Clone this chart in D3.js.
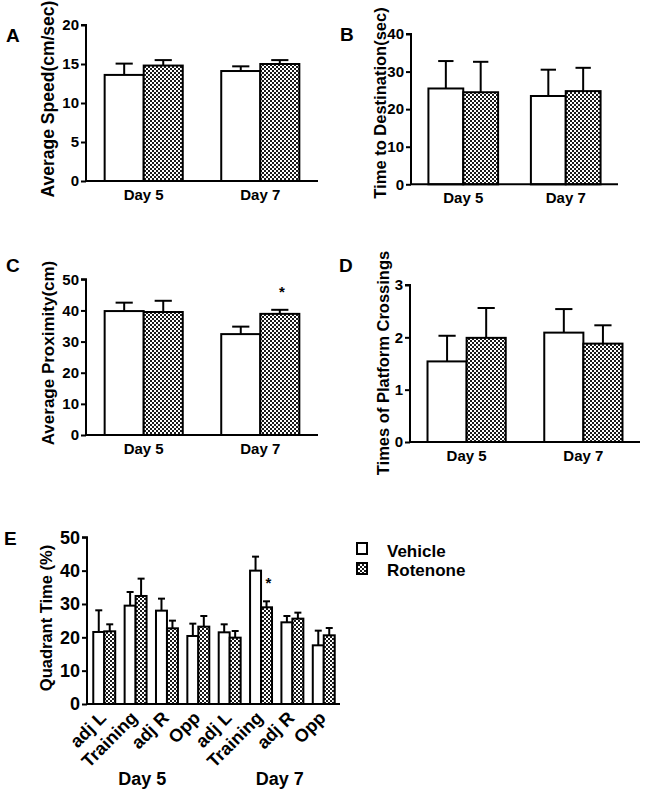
<!DOCTYPE html>
<html><head><meta charset="utf-8">
<script src="https://cdn.jsdelivr.net/npm/d3@7"></script>
<style>
body{margin:0;background:#fff;}
text{font-family:"Liberation Sans",Arial,sans-serif;font-weight:bold;fill:#000;}
</style></head>
<body><svg id="c" width="650" height="793"></svg>
<script>
// ---------- DATA ----------
const series = ["Vehicle", "Rotenone"];
const days = ["Day 5", "Day 7"];

const speedVehicle = [13.6, 14.1], speedVehicleSem = [1.45, 0.6];
const speedRotenone = [14.8, 15.0], speedRotenoneSem = [0.7, 0.5];
const speedTicks = [0, 5, 10, 15, 20];

const destVehicle = [25.5, 23.5], destVehicleSem = [7.3, 7.0];
const destRotenone = [24.5, 24.8], destRotenoneSem = [8.1, 6.2];
const destTicks = [0, 10, 20, 30, 40];

const proxVehicle = [39.8, 32.4], proxVehicleSem = [2.7, 2.4];
const proxRotenone = [39.5, 38.9], proxRotenoneSem = [3.6, 1.3];
const proxStarRotenone = [false, true];
const proxTicks = [0, 10, 20, 30, 40, 50];

const crossVehicle = [1.54, 2.09], crossVehicleSem = [0.49, 0.45];
const crossRotenone = [1.99, 1.88], crossRotenoneSem = [0.57, 0.35];
const crossTicks = [0, 1, 2, 3];

const quadrants = ["adj L", "Training", "adj R", "Opp", "adj L", "Training", "adj R", "Opp"];
const quadrantDay = ["Day 5", "Day 5", "Day 5", "Day 5", "Day 7", "Day 7", "Day 7", "Day 7"];
const quadVehicle = [21.6, 29.5, 28.0, 20.4, 21.5, 40.0, 24.5, 17.6];
const quadVehicleSem = [6.5, 4.1, 3.6, 3.7, 2.4, 4.2, 1.9, 4.4];
const quadRotenone = [21.8, 32.4, 22.7, 23.2, 19.9, 29.0, 25.6, 20.6];
const quadRotenoneSem = [2.1, 5.2, 2.3, 3.2, 2.0, 1.8, 1.8, 2.2];
const quadStarRotenone = [false, false, false, false, false, true, false, false];
const quadTicks = [0, 10, 20, 30, 40, 50];

// ---------- DRAW ----------
const svg = d3.select("#c");
svg.append("rect").attr("width", 650).attr("height", 793).attr("fill", "#fff");
const defs = svg.append("defs");
const pat = defs.append("pattern").attr("id", "chk").attr("patternUnits", "userSpaceOnUse")
  .attr("width", 4).attr("height", 4);
pat.append("rect").attr("width", 4).attr("height", 4).attr("fill", "#1a1a1a");
pat.append("rect").attr("x", 0).attr("y", 0).attr("width", 2).attr("height", 2).attr("fill", "#fff");
pat.append("rect").attr("x", 2).attr("y", 2).attr("width", 2).attr("height", 2).attr("fill", "#fff");
const fills = ["#fff", "url(#chk)"];

function panel(o) {
  const g = svg.append("g");
  const x = d3.scaleBand().domain(d3.range(o.cats.length)).range([o.x0, o.x1])
    .paddingInner(o.pi).paddingOuter(o.po);
  const xs = d3.scaleBand().domain(series).range([0, x.bandwidth()]);
  const y = d3.scaleLinear().domain([0, o.ticks[o.ticks.length - 1]]).range([o.yb, o.yt]);
  const bw = xs.bandwidth();
  const capW = Math.max(3.5, bw * 0.22);

  o.means.forEach((arr, si) => {
    const gs = g.append("g");
    arr.forEach((v, i) => {
      const cx = x(i) + xs(series[si]) + bw / 2;
      const top = v + o.sems[si][i];
      gs.append("line").attr("x1", cx).attr("x2", cx).attr("y1", y(v)).attr("y2", y(top))
        .attr("stroke", "#000").attr("stroke-width", 2);
      gs.append("line").attr("x1", cx - capW).attr("x2", cx + capW).attr("y1", y(top)).attr("y2", y(top))
        .attr("stroke", "#000").attr("stroke-width", 2);
      gs.append("rect").attr("x", x(i) + xs(series[si])).attr("y", y(v))
        .attr("width", bw).attr("height", y(0) - y(v))
        .attr("fill", fills[si]).attr("stroke", "#000").attr("stroke-width", 2);
      if (o.stars && o.stars[si] && o.stars[si][i]) {
        g.append("text").attr("x", cx + 2).attr("y", y(top) - 13).attr("text-anchor", "middle")
          .attr("font-size", 15).text("*");
      }
    });
  });

  // y axis
  const ya = g.append("g").attr("transform", `translate(${o.x0},0)`)
    .call(d3.axisLeft(y).tickValues(o.ticks).tickSize(5).tickPadding(2).tickFormat(d3.format("d")));
  ya.attr("font-size", o.tickFont).attr("font-family", '"Liberation Sans",Arial,sans-serif');
  ya.select(".domain").attr("stroke-width", 2).attr("d", `M-5,${y(o.ticks[o.ticks.length-1])}H0V${o.yb}`);
  ya.selectAll(".tick line").attr("stroke-width", 2);
  ya.selectAll(".tick text").attr("font-weight", "bold");
  // x axis line
  g.append("line").attr("x1", o.x0).attr("x2", o.xe).attr("y1", o.yb).attr("y2", o.yb)
    .attr("stroke", "#000").attr("stroke-width", 2);

  // y title
  g.append("text").attr("transform", `translate(${o.titleX},${o.titleY}) rotate(-90)`)
    .attr("text-anchor", "middle").attr("font-size", o.titleFont).text(o.title);
  // panel letter
  g.append("text").attr("x", o.letterX).attr("y", o.letterY).attr("font-size", 19).text(o.letter);

  if (o.rotated) {
    o.cats.forEach((c, i) => {
      const cx = x(i) + x.bandwidth() / 2;
      g.append("text").attr("transform", `translate(${cx + 3},${o.yb + 15}) rotate(-45)`)
        .attr("text-anchor", "end").attr("font-size", 18).text(c);
    });
    days.forEach((d, k) => {
      const idx = d3.range(o.cats.length).filter(i => o.groups[i] === d);
      const cx = d3.mean(idx, i => x(i) + x.bandwidth() / 2);
      g.append("text").attr("x", cx + o.dayShift[k]).attr("y", o.dayY).attr("text-anchor", "middle")
        .attr("font-size", 18).text(d);
    });
  } else {
    o.cats.forEach((c, i) => {
      g.append("text").attr("x", x(i) + x.bandwidth() / 2).attr("y", o.yb + 19)
        .attr("text-anchor", "middle").attr("font-size", 15).text(c);
    });
  }
}

panel({cats: days, means: [speedVehicle, speedRotenone], sems: [speedVehicleSem, speedRotenoneSem],
  ticks: speedTicks, x0: 86, x1: 318, xe: 318, yb: 181, yt: 25, pi: 0.33, po: 0.16, tickFont: 15, titleFont: 17.5,
  title: "Average Speed(cm/sec)", titleX: 54, titleY: 99, letter: "A", letterX: 6, letterY: 42});

panel({cats: days, means: [destVehicle, destRotenone], sems: [destVehicleSem, destRotenoneSem],
  ticks: destTicks, x0: 411, x1: 618, xe: 618, yb: 184.3, yt: 34, pi: 0.32, po: 0.17, tickFont: 15, titleFont: 16.5,
  title: "Time to Destination(sec)", titleX: 386, titleY: 103, letter: "B", letterX: 340, letterY: 41});

panel({cats: days, means: [proxVehicle, proxRotenone], sems: [proxVehicleSem, proxRotenoneSem],
  stars: [null, proxStarRotenone],
  ticks: proxTicks, x0: 86, x1: 318, xe: 318, yb: 435, yt: 279.3, pi: 0.33, po: 0.16, tickFont: 15, titleFont: 17,
  title: "Average Proximity(cm)", titleX: 54, titleY: 353, letter: "C", letterX: 6, letterY: 272});

panel({cats: days, means: [crossVehicle, crossRotenone], sems: [crossVehicleSem, crossRotenoneSem],
  ticks: crossTicks, x0: 410, x1: 640, xe: 640, yb: 442, yt: 285, pi: 0.33, po: 0.15, tickFont: 15, titleFont: 16.5,
  title: "Times of Platform Crossings", titleX: 389, titleY: 363, letter: "D", letterX: 339, letterY: 272});

panel({cats: quadrants, groups: quadrantDay, rotated: true, dayShift: [-9, 3],
  means: [quadVehicle, quadRotenone], sems: [quadVehicleSem, quadRotenoneSem],
  stars: [null, quadStarRotenone],
  ticks: quadTicks, x0: 87, x1: 341, xe: 340, yb: 704, yt: 537.3, pi: 0.3, po: 0.2, tickFont: 18, titleFont: 16.5,
  title: "Quadrant Time (%)", titleX: 52, titleY: 618, letter: "E", letterX: 4, letterY: 545, dayY: 785});

// legend
const lg = svg.append("g");
series.forEach((s, i) => {
  lg.append("rect").attr("x", 357).attr("y", 543 + i * 20).attr("width", 10).attr("height", 11)
    .attr("fill", fills[i]).attr("stroke", "#000").attr("stroke-width", 2);
  lg.append("text").attr("x", 387).attr("y", 557 + i * 18.5).attr("font-size", 17).text(s);
});
</script></body></html>
